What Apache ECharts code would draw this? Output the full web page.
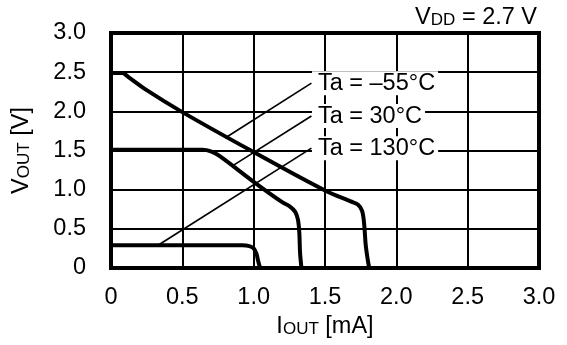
<!DOCTYPE html>
<html>
<head>
<meta charset="utf-8">
<script src="https://cdn.jsdelivr.net/npm/echarts@6/dist/echarts.min.js"></script>
<style>
html, body { margin: 0; padding: 0; background: #fff; }
#chart { width: 567px; height: 345px; }
</style>
</head>
<body>
<div id="chart"></div>
<script>
// VOUT vs. IOUT characteristic at three ambient temperatures (VDD = 2.7 V)
const curveMinus55 = [[0, 2.49], [0.08, 2.49], [0.12, 2.44], [0.25, 2.27], [0.5, 1.99], [1.0, 1.48], [1.5, 0.99], [1.68, 0.85], [1.73, 0.81], [1.76, 0.73], [1.775, 0.55], [1.785, 0.3], [1.80, 0.1], [1.81, 0]];
const curve30 = [[0, 1.51], [0.64, 1.51], [0.70, 1.49], [0.76, 1.43], [1.0, 1.10], [1.2, 0.84], [1.25, 0.79], [1.29, 0.72], [1.31, 0.62], [1.32, 0.45], [1.325, 0.2], [1.335, 0]];
const curve130 = [[0, 0.29], [0.92, 0.29], [0.97, 0.28], [1.0, 0.25], [1.02, 0.18], [1.03, 0.1], [1.045, 0]];

// Leader lines: label end first, curve end second
const leaderMinus55 = [[1.405, 2.36], [0.80, 1.66]];
const leader30 = [[1.405, 1.94], [0.857, 1.31]];
const leader130 = [[1.405, 1.53], [0.33, 0.29]];

const tempLabels = ['Ta = –55°C', 'Ta = 30°C', 'Ta = 130°C'];
const xTickLabels = ['0', '0.5', '1.0', '1.5', '2.0', '2.5', '3.0'];
const yTickLabels = ['0', '0.5', '1.0', '1.5', '2.0', '2.5', '3.0'];

const FONT = 'Liberation Sans, Arial, sans-serif';
const BIG = 23.5;
const SMALL = 17;
const richText = {
  b: { fontSize: BIG, fontFamily: FONT, fontWeight: 'normal', color: '#000' },
  s: { fontSize: SMALL, fontFamily: FONT, fontWeight: 'normal', color: '#000', verticalAlign: 'bottom', padding: [0, 0, 1, 0] }
};

const chart = echarts.init(document.getElementById('chart'), null, { renderer: 'canvas' });

function curveSeries(data) {
  return {
    type: 'line', data: data, smooth: 0.35, symbol: 'none',
    lineStyle: { color: '#000', width: 4, cap: 'round', join: 'round' },
    z: 4
  };
}
function leaderSeries(data) {
  return {
    type: 'line', data: data, symbol: 'none',
    lineStyle: { color: '#000', width: 1.7 },
    z: 3
  };
}

const labelAnchors = [leaderMinus55[0], leader30[0], leader130[0]];

chart.setOption({
  animation: false,
  backgroundColor: '#fff',
  textStyle: { fontFamily: FONT },
  title: {
    text: '{b|V}{s|DD}{b| = 2.7 V}',
    right: 25, top: 1,
    textStyle: { fontWeight: 'normal', rich: richText }
  },
  grid: {
    left: 111, right: 28, top: 33, bottom: 77,
    show: true, borderColor: '#000', borderWidth: 4, backgroundColor: 'transparent'
  },
  xAxis: {
    type: 'value', min: 0, max: 3, interval: 0.5,
    axisLine: { show: false }, axisTick: { show: false },
    splitLine: { show: true, lineStyle: { color: '#000', width: 2 } },
    axisLabel: {
      fontSize: BIG, color: '#000', fontFamily: FONT, margin: 18,
      formatter: (v) => xTickLabels[Math.round(v / 0.5)]
    },
    name: '{b|I}{s|OUT}{b| [mA]}',
    nameLocation: 'middle', nameGap: 45,
    nameTextStyle: { rich: richText }
  },
  yAxis: {
    type: 'value', min: 0, max: 3, interval: 0.5,
    axisLine: { show: false }, axisTick: { show: false },
    splitLine: { show: true, lineStyle: { color: '#000', width: 2 } },
    axisLabel: {
      fontSize: BIG, color: '#000', fontFamily: FONT, margin: 25,
      formatter: (v) => yTickLabels[Math.round(v / 0.5)]
    },
    name: '{b|V}{s|OUT}{b| [V]}',
    nameLocation: 'middle', nameGap: 77,
    nameTextStyle: { rich: richText }
  },
  series: [
    curveSeries(curveMinus55),
    curveSeries(curve30),
    curveSeries(curve130),
    leaderSeries(leaderMinus55),
    leaderSeries(leader30),
    leaderSeries(leader130),
    {
      type: 'scatter',
      data: labelAnchors.map((p, i) => ({ value: p, name: tempLabels[i] })),
      symbolSize: 1,
      itemStyle: { color: 'rgba(0,0,0,0)', opacity: 1 },
      clip: false,
      z: 6,
      label: {
        show: true, position: 'right', distance: 0,
        formatter: (p) => p.name,
        fontSize: BIG, fontFamily: FONT, color: '#000',
        backgroundColor: '#fff', padding: [0, 3, 0, 6]
      }
    }
  ]
});
</script>
</body>
</html>
